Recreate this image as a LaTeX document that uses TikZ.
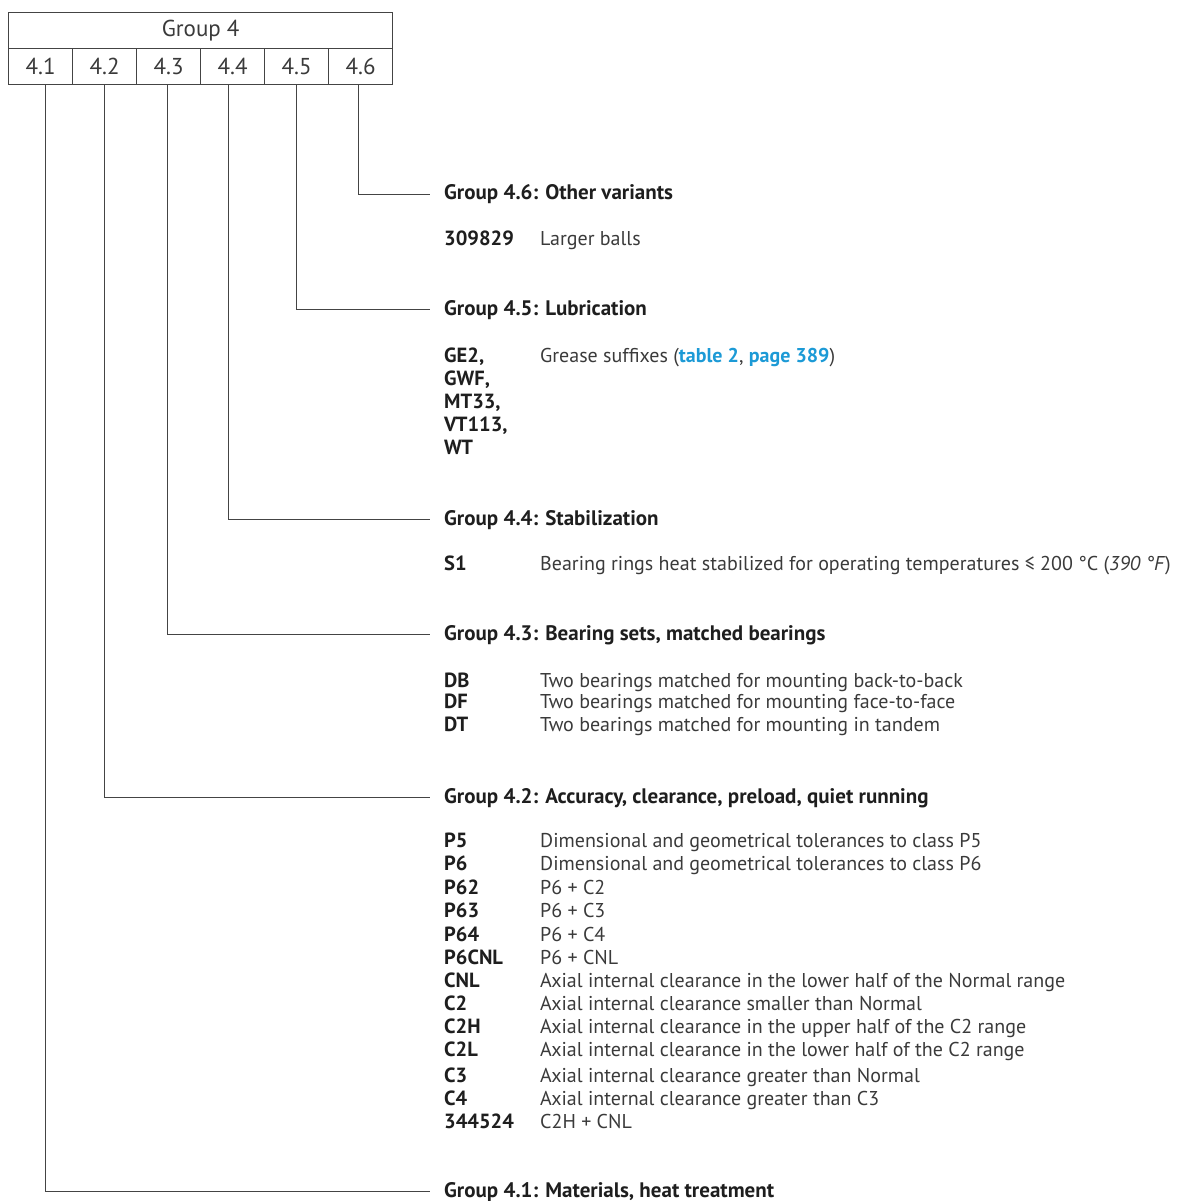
\documentclass[tikz,border=0pt]{standalone}
\usepackage{fontspec}
\setmainfont{PT Sans}
\usetikzlibrary{calc}
\definecolor{txt}{HTML}{3A3A3A}
\definecolor{dark}{HTML}{1E1E1E}
\definecolor{linkc}{HTML}{1C9AD6}
\definecolor{linec}{HTML}{444444}
\begin{document}
\begin{tikzpicture}[x=1pt,y=-1pt,
  cell/.style={draw=linec,line width=1.3pt,minimum width=64pt,minimum height=36pt,inner sep=0pt,anchor=north west,font=\fontsize{23}{23}\selectfont,text=txt},
  topcell/.style={cell,minimum width=384pt},
  head/.style={anchor=base west,inner xsep=14pt,inner ysep=0pt,font=\fontsize{21}{21}\selectfont\bfseries,text=dark},
  code/.style={anchor=base west,inner sep=0pt,font=\fontsize{20.5}{20.5}\selectfont\bfseries,text=dark,align=left},
  desc/.style={anchor=base west,inner sep=0pt,font=\fontsize{20}{20}\selectfont,text=txt},
  conn/.style={draw=linec,line width=1.3pt}]
\useasboundingbox (0,0) rectangle (1179,1201);
% table
\node[topcell] (g4) at (8,12) {Group 4};
\node[cell] (c1) at (8,48) {4.1};
\node[cell] (c2) at (72,48) {4.2};
\node[cell] (c3) at (136,48) {4.3};
\node[cell] (c4) at (200,48) {4.4};
\node[cell] (c5) at (264,48) {4.5};
\node[cell] (c6) at (328,48) {4.6};
% headers
\node[head] (h6) at (430,200) {Group 4.6: Other variants};
\node[head] (h5) at (430,315) {Group 4.5: Lubrication};
\node[head] (h4) at (430,525) {Group 4.4: Stabilization};
\node[head] (h3) at (430,640) {Group 4.3: Bearing sets, matched bearings};
\node[head] (h2) at (430,803) {Group 4.2: Accuracy, clearance, preload, quiet running};
\node[head] (h1) at (430,1197) {Group 4.1: Materials, heat treatment};
% connectors
\draw[conn] ([xshift=5pt]c1.south) |- (h1.west);
\draw[conn] ([xshift=0pt]c2.south) |- (h2.west);
\draw[conn] ([xshift=-1pt]c3.south) |- (h3.west);
\draw[conn] ([xshift=-4pt]c4.south) |- (h4.west);
\draw[conn] ([xshift=0pt]c5.south) |- (h5.west);
\draw[conn] ([xshift=-2pt]c6.south) |- (h6.west);
% 4.6
\node[code] (k61) at (444,245) {309829};
\node[desc] (d61) at (540,245) {Larger balls};
% 4.5
\node[code] (k51) at (444,362) {GE2,};
\node[code] (k52) at (444,385) {GWF,};
\node[code] (k53) at (444,408) {MT33,};
\node[code] (k54) at (444,431) {VT113,};
\node[code] (k55) at (444,454) {WT};
\node[desc] (d51) at (540,362) {Grease suffixes (\textcolor{linkc}{\bfseries table 2}, \textcolor{linkc}{\bfseries page 389})};
% 4.4
\node[code] (k41) at (444,570) {S1};
\node[desc] (d41) at (540,570) {Bearing rings heat stabilized for operating temperatures ≤ 200 °C (\textit{390 °F})};
% 4.3
\node[code] (k31) at (444,687) {DB};
\node[desc] (d31) at (540,687) {Two bearings matched for mounting back-to-back};
\node[code] (k32) at (444,708) {DF};
\node[desc] (d32) at (540,708) {Two bearings matched for mounting face-to-face};
\node[code] (k33) at (444,731) {DT};
\node[desc] (d33) at (540,731) {Two bearings matched for mounting in tandem};
% 4.2
\node[code] (k201) at (444,847) {P5};
\node[desc] (d201) at (540,847) {Dimensional and geometrical tolerances to class P5};
\node[code] (k202) at (444,870) {P6};
\node[desc] (d202) at (540,870) {Dimensional and geometrical tolerances to class P6};
\node[code] (k203) at (444,894) {P62};
\node[desc] (d203) at (540,894) {P6 + C2};
\node[code] (k204) at (444,917) {P63};
\node[desc] (d204) at (540,917) {P6 + C3};
\node[code] (k205) at (444,941) {P64};
\node[desc] (d205) at (540,941) {P6 + C4};
\node[code] (k206) at (444,964) {P6CNL};
\node[desc] (d206) at (540,964) {P6 + CNL};
\node[code] (k207) at (444,987) {CNL};
\node[desc] (d207) at (540,987) {Axial internal clearance in the lower half of the Normal range};
\node[code] (k208) at (444,1010) {C2};
\node[desc] (d208) at (540,1010) {Axial internal clearance smaller than Normal};
\node[code] (k209) at (444,1033) {C2H};
\node[desc] (d209) at (540,1033) {Axial internal clearance in the upper half of the C2 range};
\node[code] (k210) at (444,1056) {C2L};
\node[desc] (d210) at (540,1056) {Axial internal clearance in the lower half of the C2 range};
\node[code] (k211) at (444,1082) {C3};
\node[desc] (d211) at (540,1082) {Axial internal clearance greater than Normal};
\node[code] (k212) at (444,1105) {C4};
\node[desc] (d212) at (540,1105) {Axial internal clearance greater than C3};
\node[code] (k213) at (444,1128) {344524};
\node[desc] (d213) at (540,1128) {C2H + CNL};
\end{tikzpicture}
\end{document}
